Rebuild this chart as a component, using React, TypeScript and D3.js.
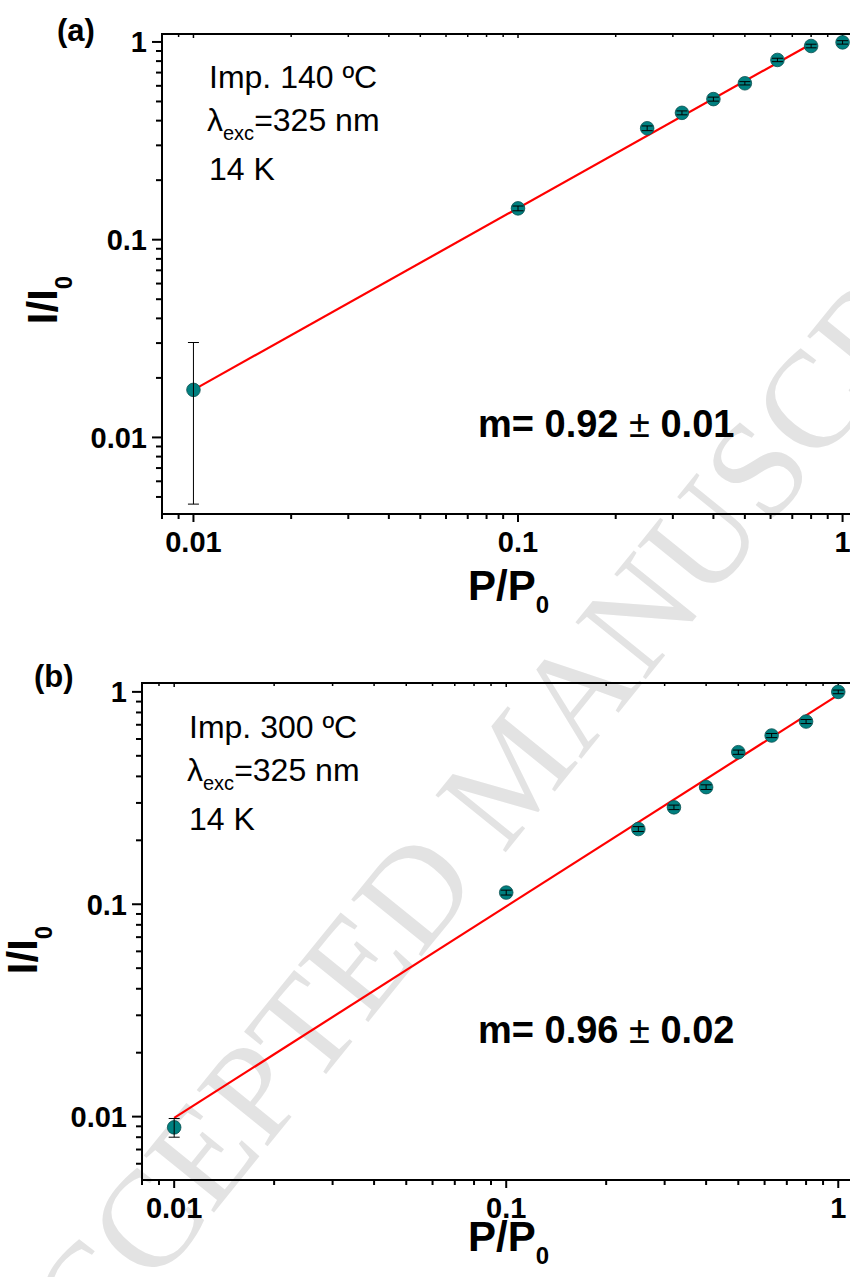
import React from "react";
import { scaleLog, line } from "d3";

// P/P0 values (same for both panels)
const powerA = [0.01, 0.1, 0.25, 0.32, 0.4, 0.5, 0.63, 0.8, 1.0];
const intensityA = [0.0174, 0.144, 0.366, 0.438, 0.514, 0.618, 0.811, 0.954, 0.995];
const errorA = [0.0128, 0.004, 0.01, 0.01, 0.012, 0.012, 0.016, 0.02, 0.02];
const fitXA = [0.01, 0.8];
const fitYA = [0.0174, 0.977];

const powerB = [0.01, 0.1, 0.25, 0.32, 0.4, 0.5, 0.63, 0.8, 1.0];
const intensityB = [0.0089, 0.1135, 0.226, 0.286, 0.356, 0.52, 0.623, 0.725, 1.0];
const errorB = [0.0009, 0.003, 0.006, 0.007, 0.009, 0.012, 0.014, 0.016, 0.02];
const fitXB = [0.01, 1.0];
const fitYB = [0.00986, 0.968];

const majorTicks = [0.01, 0.1, 1];
const majorLabels = ["0.01", "0.1", "1"];

const FONT = "Arial, 'Liberation Sans', sans-serif";

function minorTicks(lo: number, hi: number) {
  const out: number[] = [];
  for (let d = 0.001; d <= 1; d *= 10) {
    for (let k = 2; k <= 9; k++) {
      const v = +(k * d).toPrecision(3);
      if (v >= lo && v <= hi) out.push(v);
    }
  }
  return out;
}

type PanelProps = {
  tag: string;
  tagX: number;
  tagY: number;
  xs: number[];
  ys: number[];
  errs: number[];
  fitX: number[];
  fitY: number[];
  xDomain: [number, number];
  yDomain: [number, number];
  left: number;
  right: number;
  top: number;
  bottom: number;
  imp: string;
  infoX: number;
  infoY: number;
  slope: string;
  slopeX: number;
  slopeY: number;
  yTitleX: number;
  yTitleY: number;
  xTitleY: number;
};

function Panel(p: PanelProps) {
  const x = scaleLog().domain(p.xDomain).range([p.left, p.right]);
  const y = scaleLog().domain(p.yDomain).range([p.bottom, p.top]);
  const fitPath = line<number>()
    .x((d) => x(d))
    .y((d, i) => y(p.fitY[i]))(p.fitX);
  const xMinor = minorTicks(p.xDomain[0], p.xDomain[1]);
  const yMinor = minorTicks(p.yDomain[0], p.yDomain[1]);
  const [slopeHead, slopeTail] = p.slope.split("±");

  return (
    <g fontFamily={FONT}>
      {/* frame */}
      <path
        d={`M${p.right},${p.top}H${p.left}V${p.bottom}H${p.right}`}
        fill="none"
        stroke="#000"
        strokeWidth={2}
      />
      {/* x ticks bottom + top mirror */}
      {majorTicks.map((t) => (
        <g key={"xm" + t}>
          <line x1={x(t)} x2={x(t)} y1={p.bottom} y2={p.bottom + 8} stroke="#000" strokeWidth={2} />
          <line x1={x(t)} x2={x(t)} y1={p.top} y2={p.top + 4} stroke="#000" strokeWidth={1.5} />
        </g>
      ))}
      {xMinor.map((t) => (
        <g key={"xn" + t}>
          <line x1={x(t)} x2={x(t)} y1={p.bottom} y2={p.bottom + 5} stroke="#000" strokeWidth={2} />
          <line x1={x(t)} x2={x(t)} y1={p.top} y2={p.top + 3} stroke="#000" strokeWidth={1.5} />
        </g>
      ))}
      {majorTicks.map((t, i) => (
        <text
          key={"xl" + t}
          x={x(t)}
          y={p.bottom + 38}
          textAnchor="middle"
          fontSize={29}
          fontWeight="bold"
        >
          {majorLabels[i]}
        </text>
      ))}
      {/* y ticks */}
      {majorTicks.map((t) => (
        <line key={"ym" + t} x1={p.left - 10} x2={p.left} y1={y(t)} y2={y(t)} stroke="#000" strokeWidth={2} />
      ))}
      {yMinor.map((t) => (
        <line key={"yn" + t} x1={p.left - 6} x2={p.left} y1={y(t)} y2={y(t)} stroke="#000" strokeWidth={2} />
      ))}
      {majorTicks.map((t, i) => (
        <text
          key={"yl" + t}
          x={p.left - 15}
          y={y(t)}
          dy="0.36em"
          textAnchor="end"
          fontSize={29}
          fontWeight="bold"
        >
          {majorLabels[i]}
        </text>
      ))}
      {/* titles */}
      <text x={468} y={p.xTitleY} fontSize={42} fontWeight="bold">
        P/P
        <tspan fontSize={24} dy={13}>0</tspan>
      </text>
      <text
        transform={`translate(${p.yTitleX},${p.yTitleY}) rotate(-90)`}
        textAnchor="middle"
        fontSize={42}
        fontWeight="bold"
      >
        I/I
        <tspan fontSize={24} dy={15}>0</tspan>
      </text>
      <text x={p.tagX} y={p.tagY} fontSize={31} fontWeight="bold">
        {p.tag}
      </text>
      {/* annotations */}
      <text x={p.infoX} y={p.infoY} fontSize={32}>
        {p.imp}
      </text>
      <text x={p.infoX - 2} y={p.infoY + 43} fontSize={32}>
        λ<tspan fontSize={20} dy={9}>exc</tspan>
        <tspan dy={-9}>=325 nm</tspan>
      </text>
      <text x={p.infoX} y={p.infoY + 92} fontSize={32}>
        14 K
      </text>
      <text x={p.slopeX} y={p.slopeY} fontSize={38} fontWeight="bold">
        {slopeHead}
        <tspan fontWeight="normal">±</tspan>
        {slopeTail}
      </text>
      {/* fit */}
      <path d={fitPath || ""} fill="none" stroke="#ff0000" strokeWidth={2.2} />
      {/* data */}
      {p.xs.map((v, i) => {
        const cx = x(v);
        const y0 = y(p.ys[i] + p.errs[i]);
        const y1 = y(p.ys[i] - p.errs[i]);
        return (
          <g key={"pt" + i}>
            <circle cx={cx} cy={y(p.ys[i])} r={6.8} fill="#008080" stroke="#0b4f4f" strokeWidth={0.8} />
            <line x1={cx} x2={cx} y1={y0} y2={y1} stroke="#000" strokeWidth={1} />
            <line x1={cx - 5.5} x2={cx + 5.5} y1={y0} y2={y0} stroke="#000" strokeWidth={1} />
            <line x1={cx - 5.5} x2={cx + 5.5} y1={y1} y2={y1} stroke="#000" strokeWidth={1} />
          </g>
        );
      })}
    </g>
  );
}

export default function App() {
  return (
    <svg
      width={850}
      height={1277}
      style={{ position: "absolute", left: 0, top: 0, background: "#fff" }}
    >
      <rect width={850} height={1277} fill="#fff" />
      {/* watermark */}
      <text
        transform="translate(548,800) rotate(-51)"
        textAnchor="middle"
        fontFamily="'Liberation Serif', 'Times New Roman', serif"
        fontSize={138}
        fill="#e3e3e3"
      >
        ACCEPTED MANUSCRIPT
      </text>
      <Panel
        tag="(a)"
        tagX={57}
        tagY={41}
        xs={powerA}
        ys={intensityA}
        errs={errorA}
        fitX={fitXA}
        fitY={fitYA}
        xDomain={[0.008, 1.1]}
        yDomain={[0.0041, 1.097]}
        left={162}
        right={856}
        top={34}
        bottom={514}
        imp="Imp. 140 ºC"
        infoX={209}
        infoY={88}
        slope="m= 0.92 ± 0.01"
        slopeX={478}
        slopeY={437}
        yTitleX={57}
        yTitleY={300}
        xTitleY={600}
      />
      <Panel
        tag="(b)"
        tagX={34}
        tagY={687}
        xs={powerB}
        ys={intensityB}
        errs={errorB}
        fitX={fitXB}
        fitY={fitYB}
        xDomain={[0.008, 1.1]}
        yDomain={[0.00503, 1.101]}
        left={142}
        right={852}
        top={683}
        bottom={1180}
        imp="Imp. 300 ºC"
        infoX={189}
        infoY={738}
        slope="m= 0.96 ± 0.02"
        slopeX={478}
        slopeY={1043}
        yTitleX={37}
        yTitleY={950}
        xTitleY={1251}
      />
    </svg>
  );
}
